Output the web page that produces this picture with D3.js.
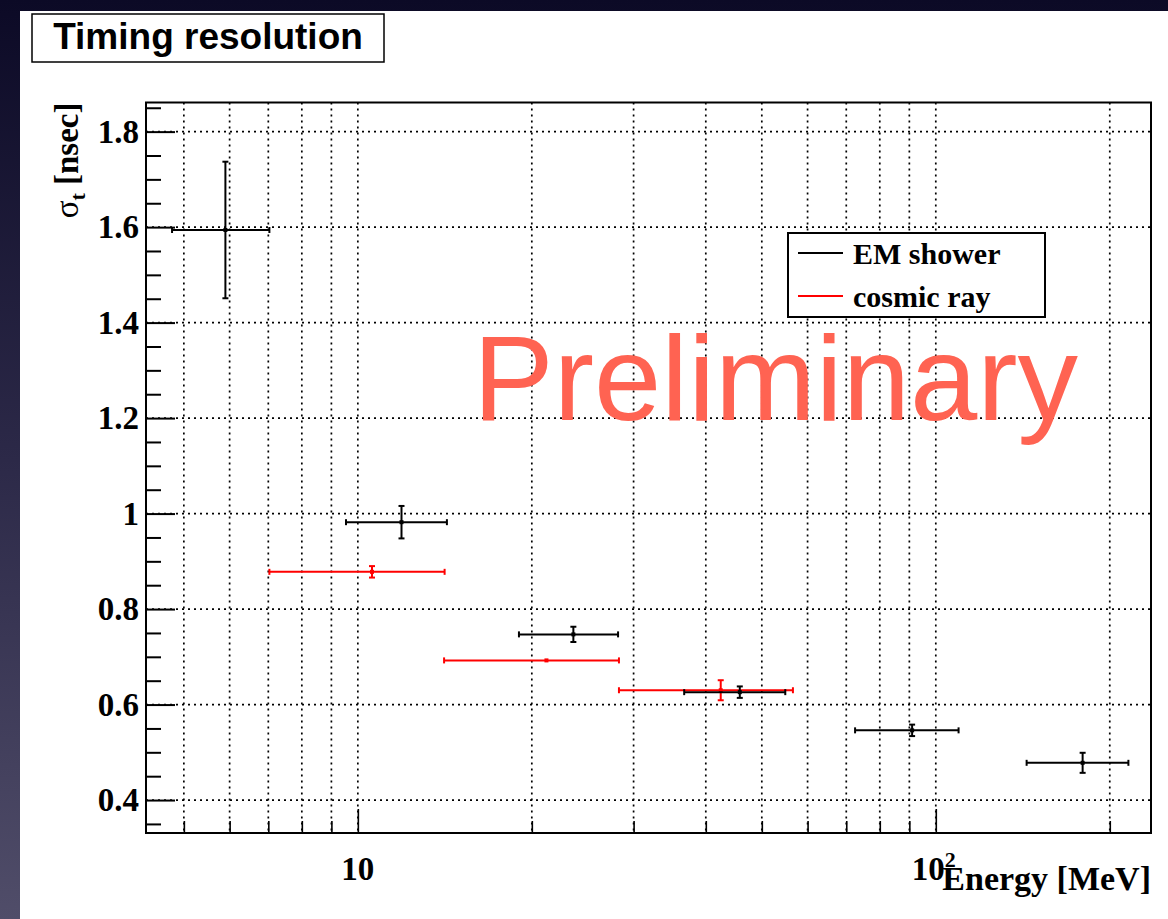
<!DOCTYPE html>
<html><head><meta charset="utf-8">
<script src="https://cdn.jsdelivr.net/npm/d3@7"></script>
<style>body{margin:0;background:#fff}svg{display:block}</style>
</head><body><svg id="c" width="1168" height="919"></svg>
<script>
// ---- data ----
const emX    = [5.9, 11.9, 23.6, 45.8, 91.0, 179.5];
const emXErr = [1.13, 2.36, 4.6, 9.1, 18.5, 35.9];
const emY    = [1.594, 0.982, 0.747, 0.626, 0.546, 0.478];
const emYErr = [0.143, 0.034, 0.016, 0.012, 0.012, 0.021];
const crX    = [10.58, 21.2, 42.45];
const crXErr = [3.55, 7.1, 14.15];
const crY    = [0.878, 0.6925, 0.630];
const crYErr = [0.012, 0.003, 0.021];
const yTicks = [0.4, 0.6, 0.8, 1.0, 1.2, 1.4, 1.6, 1.8];
const yTickLabels = ["0.4", "0.6", "0.8", "1", "1.2", "1.4", "1.6", "1.8"];
const xMajor = [10, 100];
const xMinor = [5, 6, 7, 8, 9, 20, 30, 40, 50, 60, 70, 80, 90, 200];
const legendNames = ["EM shower", "cosmic ray"];
const colors = ["#000000", "#ff0000"];

const svg = d3.select("#c");
const W = 1168, H = 919;
const L = 146, T = 102.5, R = 1151, B = 833;

// background
const defs = svg.append("defs");
const g0 = defs.append("linearGradient").attr("id", "bg").attr("x1", 0).attr("y1", 0).attr("x2", 0).attr("y2", 1);
g0.append("stop").attr("offset", "0").attr("stop-color", "#0c0a26");
g0.append("stop").attr("offset", "0.5").attr("stop-color", "#2c2948");
g0.append("stop").attr("offset", "1").attr("stop-color", "#504d69");
svg.append("rect").attr("width", W).attr("height", H).attr("fill", "url(#bg)");
svg.append("rect").attr("x", 20).attr("y", 11).attr("width", W - 20).attr("height", H - 11).attr("fill", "#fff");

const x = d3.scaleLog().domain([4.30, 235.7]).range([L, R]);
const y = d3.scaleLinear().domain([0.331, 1.861]).range([B, T]);

// grid
const grid = svg.append("g").attr("stroke", "#000").attr("stroke-width", 1.7).attr("stroke-dasharray", "2,4");
grid.selectAll("line.gx").data(xMajor.concat(xMinor)).join("line")
  .attr("x1", d => x(d)).attr("x2", d => x(d)).attr("y1", T).attr("y2", B);
grid.selectAll("line.gy").data(yTicks).join("line")
  .attr("y1", d => y(d)).attr("y2", d => y(d)).attr("x1", L).attr("x2", R);

// axes
const yAxisMajor = d3.axisRight(y).tickValues(yTicks).tickSize(29).tickFormat("");
const yMinorVals = d3.range(0.35, 1.861, 0.05).filter(v => !yTicks.some(t => Math.abs(t - v) < 1e-6));
const yAxisMinor = d3.axisRight(y).tickValues(yMinorVals).tickSize(15).tickFormat("");
[yAxisMajor, yAxisMinor].forEach(a => {
  const g = svg.append("g").attr("transform", `translate(${L},0)`).call(a);
  g.select(".domain").remove();
  g.selectAll("line").attr("stroke", "#000").attr("stroke-width", 2);
});
const xAxisMajor = d3.axisTop(x).tickValues(xMajor).tickSize(24).tickFormat("");
const xAxisMinor = d3.axisTop(x).tickValues(xMinor).tickSize(12).tickFormat("");
[xAxisMajor, xAxisMinor].forEach(a => {
  const g = svg.append("g").attr("transform", `translate(0,${B})`).call(a);
  g.select(".domain").remove();
  g.selectAll("line").attr("stroke", "#000").attr("stroke-width", 1.6);
});

// y labels
svg.append("g").selectAll("text").data(yTicks).join("text")
  .attr("x", 139).attr("y", d => y(d) + 11).attr("text-anchor", "end")
  .attr("font-family", "Liberation Serif").attr("font-weight", "bold").attr("font-size", 33)
  .text((d, i) => yTickLabels[i]);
// x labels
const xl = svg.append("g").attr("font-family", "Liberation Serif").attr("font-weight", "bold").attr("font-size", 33);
xl.append("text").attr("x", x(10)).attr("y", 880).attr("text-anchor", "middle").text("10");
const t100 = xl.append("text").attr("x", x(100) - 2).attr("y", 880).attr("text-anchor", "middle");
t100.append("tspan").text("10");
t100.append("tspan").attr("dy", -13).attr("font-size", 22).text("2");

// axis titles
svg.append("text").attr("x", R).attr("y", 890).attr("text-anchor", "end")
  .attr("font-family", "Liberation Serif").attr("font-weight", "bold").attr("font-size", 34).text("Energy [MeV]");
const yt = svg.append("text").attr("transform", `translate(78,${T}) rotate(-90)`).attr("text-anchor", "end")
  .attr("font-family", "Liberation Serif").attr("font-weight", "bold").attr("font-size", 33);
yt.append("tspan").attr("font-weight", "normal").text("σ");
yt.append("tspan").attr("dy", 7).attr("font-size", 22).text("t");
yt.append("tspan").attr("dy", -7).text(" [nsec]");

// data
function drawSeries(xs, xe, ys, ye, col) {
  const g = svg.append("g").attr("stroke", col).attr("stroke-width", 2).attr("fill", col);
  xs.forEach((xv, i) => {
    const cx = x(xv), cy = y(ys[i]);
    const x0 = x(xv - xe[i]), x1 = x(xv + xe[i]);
    const y0 = y(ys[i] + ye[i]), y1 = y(ys[i] - ye[i]);
    g.append("line").attr("x1", x0).attr("x2", x1).attr("y1", cy).attr("y2", cy);
    g.append("line").attr("x1", x0).attr("x2", x0).attr("y1", cy - 3).attr("y2", cy + 3);
    g.append("line").attr("x1", x1).attr("x2", x1).attr("y1", cy - 3).attr("y2", cy + 3);
    if (y1 - y0 > 4) {
      g.append("line").attr("x1", cx).attr("x2", cx).attr("y1", y0).attr("y2", y1);
      g.append("line").attr("x1", cx - 3).attr("x2", cx + 3).attr("y1", y0).attr("y2", y0);
      g.append("line").attr("x1", cx - 3).attr("x2", cx + 3).attr("y1", y1).attr("y2", y1);
    }
    g.append("rect").attr("x", cx - 2).attr("y", cy - 2).attr("width", 4).attr("height", 4).attr("stroke", "none");
  });
}
drawSeries(crX, crXErr, crY, crYErr, colors[1]);
drawSeries(emX, emXErr, emY, emYErr, colors[0]);

// frame
svg.append("rect").attr("x", L).attr("y", T).attr("width", R - L).attr("height", B - T)
  .attr("fill", "none").attr("stroke", "#000").attr("stroke-width", 2);

// legend
svg.append("rect").attr("x", 788).attr("y", 233).attr("width", 257).attr("height", 84)
  .attr("fill", "#fff").attr("stroke", "#000").attr("stroke-width", 2);
legendNames.forEach((n, i) => {
  const ly = 253 + i * 43;
  svg.append("line").attr("x1", 798).attr("x2", 843).attr("y1", ly).attr("y2", ly)
    .attr("stroke", colors[i]).attr("stroke-width", 2);
  svg.append("text").attr("x", 853).attr("y", ly + 11).attr("font-family", "Liberation Serif")
    .attr("font-weight", "bold").attr("font-size", 30).text(n);
});

// title box
svg.append("rect").attr("x", 32).attr("y", 14).attr("width", 352).attr("height", 48)
  .attr("fill", "#fff").attr("stroke", "#000").attr("stroke-width", 1.5);
svg.append("text").attr("x", 208).attr("y", 49).attr("text-anchor", "middle")
  .attr("font-family", "Liberation Sans").attr("font-weight", "bold").attr("font-size", 37).text("Timing resolution");

// watermark
svg.append("text").attr("x", 473).attr("y", 420).attr("font-family", "Liberation Sans")
  .attr("font-size", 121).attr("fill", "#ff6352").text("Preliminary");
</script></body></html>
